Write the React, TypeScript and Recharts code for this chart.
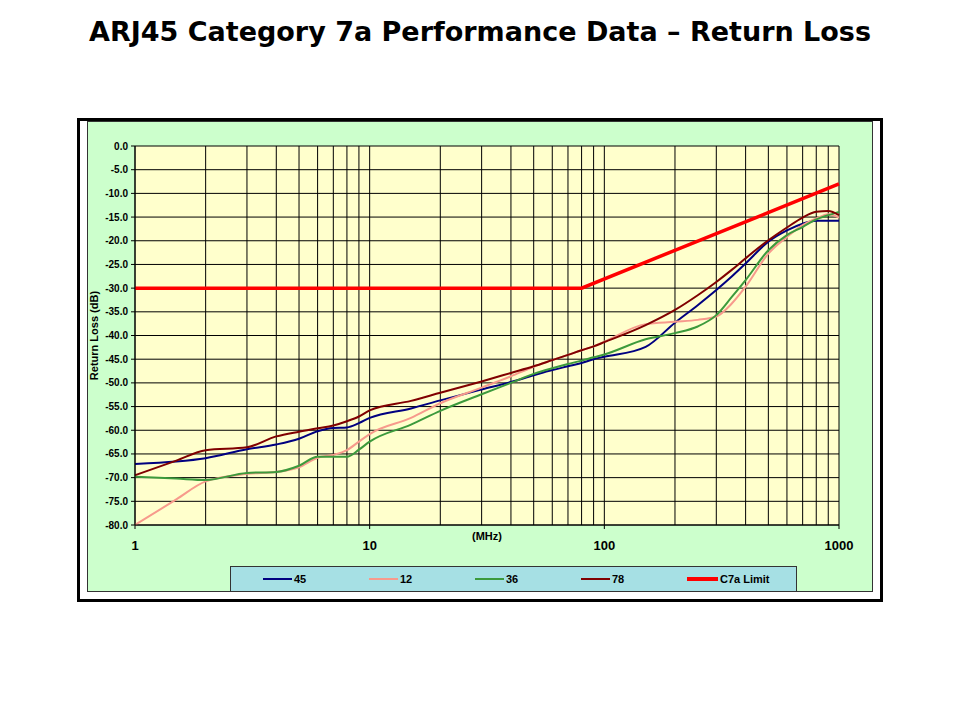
import React from 'react';
import { LineChart, Line, XAxis, YAxis, CartesianGrid } from 'recharts';

const freqMHz = [1, 1.5, 2, 3, 4, 5, 6, 7, 8, 9, 10, 15, 20, 30, 40, 50, 60, 70, 80, 90, 100, 150, 200, 250, 300, 350, 400, 500, 600, 700, 800, 900, 1000];

const pair45 = [-67.1, -66.6, -65.9, -64.0, -63.0, -61.8, -60.2, -59.5, -59.4, -58.5, -57.4, -55.4, -53.7, -51.4, -49.8, -48.4, -47.3, -46.5, -45.8, -45.0, -44.5, -42.4, -37.3, -33.6, -30.4, -27.5, -24.8, -20.2, -17.8, -16.4, -15.8, -15.8, -15.8];
const pair12 = [-80.0, -74.6, -70.8, -69.2, -68.8, -67.8, -65.8, -65.2, -64.2, -62.4, -60.8, -57.4, -54.3, -51.0, -48.6, -46.6, -45.2, -44.1, -43.1, -42.3, -41.3, -37.6, -37.1, -36.7, -36.0, -33.2, -29.7, -22.7, -19.2, -16.7, -15.3, -14.4, -15.1];
const pair36 = [-69.8, -70.2, -70.5, -69.0, -68.8, -67.5, -65.6, -65.6, -65.6, -64.1, -62.4, -58.8, -55.9, -52.4, -50.0, -48.1, -46.9, -46.0, -45.3, -44.6, -44.0, -40.8, -39.5, -38.1, -35.7, -31.8, -28.3, -22.0, -18.8, -17.1, -15.5, -14.6, -13.9];
const pair78 = [-69.5, -66.4, -64.2, -63.6, -61.3, -60.3, -59.6, -59.0, -58.1, -57.1, -55.8, -53.8, -52.1, -49.7, -47.9, -46.5, -45.2, -44.1, -43.1, -42.3, -41.4, -37.8, -34.6, -31.5, -28.7, -26.1, -23.7, -19.9, -17.2, -15.1, -13.9, -13.7, -14.6];

const limitFreq = [1, 80, 1000];
const limitDb = [-30, -30, -8];

const xTicks = [1, 2, 3, 4, 5, 6, 7, 8, 9, 10, 20, 30, 40, 50, 60, 70, 80, 90, 100, 200, 300, 400, 500, 600, 700, 800, 900, 1000];
const decadeLabels = [1, 10, 100, 1000];
const yTicks = [0, -5, -10, -15, -20, -25, -30, -35, -40, -45, -50, -55, -60, -65, -70, -75, -80];

const toPoints = (fs: number[], vs: number[]) => fs.map((f, i) => ({ f, v: vs[i] }));

const series = [
  { name: '45', data: toPoints(freqMHz, pair45), color: '#000080', width: 2 },
  { name: '12', data: toPoints(freqMHz, pair12), color: '#f79a8c', width: 2 },
  { name: '36', data: toPoints(freqMHz, pair36), color: '#3c9a3c', width: 2 },
  { name: '78', data: toPoints(freqMHz, pair78), color: '#800000', width: 2 },
  { name: 'C7a Limit', data: toPoints(limitFreq, limitDb), color: '#ff0000', width: 3.5 },
];

const font = '"Liberation Sans", Arial, sans-serif';

function DecadeTick(props: any) {
  const { x, y, payload } = props;
  if (!decadeLabels.includes(payload.value)) return null;
  return (
    <g>
      <line x1={x} x2={x} y1={y - 6} y2={y - 2} stroke="#000" />
      <text x={x} y={y} dy={19} textAnchor="middle" fontSize={13} fontWeight="bold" fill="#000" fontFamily={font}>
        {payload.value}
      </text>
    </g>
  );
}

function LegendBox() {
  return (
    <div style={{
      position: 'absolute', left: 230, top: 566, width: 567, height: 26, boxSizing: 'border-box',
      background: '#a6e0e4', border: '1px solid #333', fontFamily: font, fontSize: 11, fontWeight: 'bold',
    }}>
      {series.map((s, i) => (
        <div key={s.name} style={{ position: 'absolute', left: 32 + i * 106, top: 5, height: 14, display: 'flex', alignItems: 'center' }}>
          <div style={{ width: s.name === 'C7a Limit' ? 31 : 29, height: s.width, background: s.color, marginRight: 2 }} />
          <span>{s.name}</span>
        </div>
      ))}
    </div>
  );
}

export default function App() {
  return (
    <div style={{ position: 'absolute', left: 0, top: 0, width: 960, height: 720, background: '#fff' }}>
      <div style={{
        position: 'absolute', left: 0, top: 17, width: 960, textAlign: 'center', lineHeight: '30px',
        fontFamily: '"DejaVu Sans", Verdana, sans-serif', fontWeight: 'bold', fontSize: 27, color: '#000',
      }}>
        ARJ45 Category 7a Performance Data – Return Loss
      </div>

      <div style={{ position: 'absolute', left: 77, top: 118, width: 806, height: 484, border: '3px solid #000', boxSizing: 'border-box', background: '#fff' }} />
      <div style={{ position: 'absolute', left: 87, top: 121, width: 786, height: 471, border: '1px solid #333', boxSizing: 'border-box', background: '#ccffcc' }} />

      <div style={{ position: 'absolute', left: 0, top: 0 }}>
        <LineChart width={960} height={720} margin={{ top: 146, right: 121, bottom: 165, left: 75 }}>
          <CartesianGrid stroke="#000" strokeWidth={1} fill="#ffffcc" fillOpacity={1} />
          <XAxis
            dataKey="f"
            type="number"
            scale="log"
            domain={[1, 1000]}
            ticks={xTicks}
            interval={0}
            height={30}
            stroke="#000"
            tickLine={false}
            tickSize={4}
            tickMargin={2}
            tick={<DecadeTick />}
            allowDuplicatedCategory={false}
            label={{ value: '(MHz)', position: 'insideTop', offset: 7, fontSize: 11, fontWeight: 'bold', fill: '#000', fontFamily: font }}
          />
          <YAxis
            type="number"
            domain={[-80, 0]}
            ticks={yTicks}
            interval={0}
            width={60}
            stroke="#000"
            tickSize={4}
            tickMargin={3}
            tickFormatter={(v: number) => v.toFixed(1)}
            tick={{ fontSize: 10, fontWeight: 'bold', fill: '#000', fontFamily: font }}
            label={{
              value: 'Return Loss (dB)', angle: -90, position: 'insideLeft', offset: 19,
              style: { textAnchor: 'middle' }, fontSize: 11, fontWeight: 'bold', fill: '#000', fontFamily: font,
            }}
          />
          {series.map((s) => (
            <Line
              key={s.name}
              data={s.data}
              dataKey="v"
              name={s.name}
              type={s.name === 'C7a Limit' ? 'linear' : 'monotone'}
              stroke={s.color}
              strokeWidth={s.width}
              dot={false}
              activeDot={false}
              isAnimationActive={false}
            />
          ))}
        </LineChart>
      </div>

      <LegendBox />
    </div>
  );
}
